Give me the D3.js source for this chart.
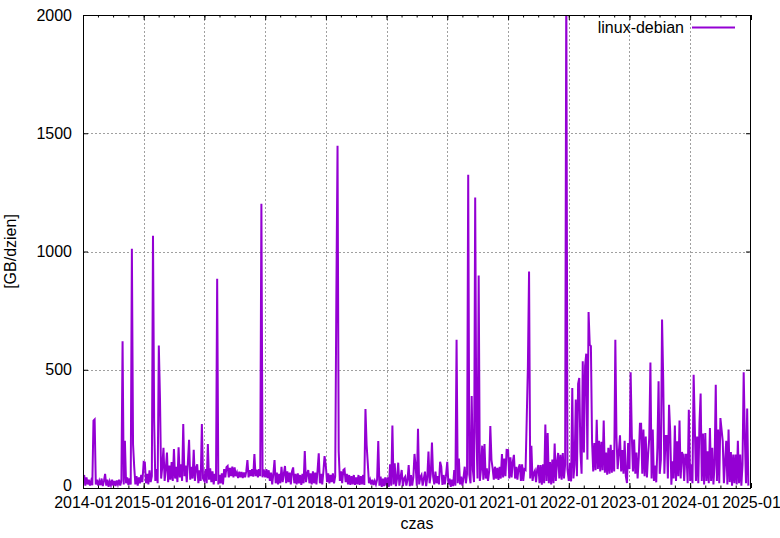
<!DOCTYPE html>
<html>
<head>
<meta charset="utf-8">
<script src="https://cdn.jsdelivr.net/npm/d3@7"></script>
<style>
  html, body { margin: 0; padding: 0; background: #fff; }
  svg { display: block; font-family: "Liberation Sans", Arial, sans-serif; }
</style>
</head>
<body>
<svg id="chart" width="780" height="538"></svg>
<script>
// Weekly samples (value at Jan 1 + 7*i days of each year), GB/day
const v2014 = [20,55,10,45,15,35,10,30,12,285,290,15,35,10,30,12,40,8,30,60,10,35,5,28,12,35,10,30,8,32,15,35,10,30,620,15,200,20,45,12,40,15,1012,185,90,15,50,10,45,20,55,25];
const v2015 = [110,108,20,60,15,75,25,50,1067,283,30,80,20,602,382,40,90,170,30,80,150,25,95,35,110,30,165,40,90,25,172,45,100,30,270,50,95,25,110,204,35,90,40,162,30,85,100,20,75,30,271,40];
const v2016 = [30,80,20,186,35,83,25,70,15,60,30,885,15,55,20,62,15,80,45,88,93,45,85,50,90,45,87,50,65,42,69,45,68,42,66,45,70,118,45,75,50,80,48,144,50,78,45,80,50,1202,45,78];
const v2017 = [45,80,42,75,30,65,15,60,118,20,65,15,60,20,90,25,60,93,20,70,25,65,15,70,87,20,60,15,62,20,55,13,60,20,156,25,60,76,20,62,15,70,20,65,15,76,147,20,60,15,70,135];
const v2018 = [90,25,62,20,55,25,62,20,50,822,1447,156,30,70,20,76,80,25,60,15,55,13,50,15,55,13,45,15,55,13,50,15,55,13,334,182,104,20,35,15,35,13,30,15,35,199,10,48,5,40,8,45];
const v2019 = [10,45,5,100,10,264,15,104,8,40,107,10,45,76,8,40,48,10,35,97,8,55,10,45,144,90,10,250,15,45,55,10,40,69,8,45,154,20,60,192,48,15,69,20,50,15,111,90,13,55,15,50];
const v2020 = [111,15,40,5,35,8,76,10,627,20,125,15,48,10,45,90,20,60,1325,55,20,389,76,25,1228,235,40,898,30,80,179,35,186,40,83,30,70,262,118,83,35,90,40,85,34,90,40,144,45,125,50,161];
const v2021 = [160,40,130,45,110,140,40,90,35,85,100,30,100,30,80,76,292,513,915,40,178,30,62,73,25,80,97,20,97,14,100,20,268,30,232,20,110,15,120,20,188,30,110,148,40,140,35,148,40,100,2150,80];
const v2022 = [30,106,28,423,40,100,374,50,440,465,155,60,536,150,517,568,120,744,606,600,197,70,190,75,289,80,200,70,195,75,285,65,150,56,170,60,183,65,160,70,627,209,80,150,223,70,160,60,200,50,21,190];
const v2023 = [80,489,223,70,205,60,150,40,130,272,272,60,247,50,218,45,140,211,531,40,247,30,95,24,170,451,60,120,712,458,60,220,220,40,352,240,14,113,40,264,30,198,50,285,40,152,141,30,141,141,20,331];
const v2024 = [30,100,20,479,261,30,218,20,275,399,30,230,15,232,30,155,20,254,30,170,15,100,437,30,247,20,296,247,198,20,110,200,15,247,25,152,10,141,20,141,15,200,20,141,10,100,489,212,20,336,10];

const years = [2014,2015,2016,2017,2018,2019,2020,2021,2022,2023,2024];
const yearValues = [v2014,v2015,v2016,v2017,v2018,v2019,v2020,v2021,v2022,v2023,v2024];
const yTicks = [0,500,1000,1500,2000];
const seriesName = "linux-debian";
const yLabel = "[GB/dzien]";
const xLabel = "czas";

const data = [];
years.forEach((yr, k) => {
  yearValues[k].forEach((v, i) => {
    data.push({date: new Date(Date.UTC(yr, 0, 1 + 7 * i)), value: v});
  });
});

const L = 83, R = 751, T = 15, B = 488;
const svg = d3.select("#chart");

const x = d3.scaleUtc()
  .domain([new Date(Date.UTC(2014,0,1)), new Date(Date.UTC(2025,0,1))])
  .range([L, R]);
const y = d3.scaleLinear().domain([0, 2000]).range([B, T]);

const yearTicks = x.ticks(d3.utcYear.every(1));
const quarterTicks = d3.utcMonth.every(3).range(new Date(Date.UTC(2014,0,1)), new Date(Date.UTC(2025,0,2)));

// grid
const grid = svg.append("g").attr("stroke", "#a0a0a0").attr("stroke-width", 1).attr("stroke-dasharray", "2,2");
yearTicks.forEach(t => {
  const px = Math.round(x(t)) + 0.5;
  if (px > L + 1 && px < R - 1)
    grid.append("line").attr("x1", px).attr("x2", px).attr("y1", T).attr("y2", B);
});
yTicks.forEach(t => {
  const py = Math.round(y(t)) + 0.5;
  if (py > T + 1 && py < B - 1)
    grid.append("line").attr("x1", L).attr("x2", R).attr("y1", py).attr("y2", py);
});

// clip
svg.append("defs").append("clipPath").attr("id", "clip")
  .append("rect").attr("x", L).attr("y", T).attr("width", R - L).attr("height", B - T);

const line = d3.line().x(d => x(d.date)).y(d => y(d.value));
svg.append("path")
  .datum(data)
  .attr("clip-path", "url(#clip)")
  .attr("fill", "none")
  .attr("stroke", "#9400d3")
  .attr("stroke-width", 2)
  .attr("d", line);

// axes
const fontSize = 16;
function styleAxis(g) {
  g.select(".domain").remove();
  g.selectAll("line").attr("stroke", "#000");
  g.selectAll("text").attr("font-size", fontSize).attr("fill", "#000")
    .attr("font-family", "'Liberation Sans', Arial, sans-serif");
}

svg.append("g").attr("transform", `translate(0,${B})`)
  .call(d3.axisBottom(x).tickValues(yearTicks).tickFormat(d3.utcFormat("%Y-%m")).tickSizeInner(-5).tickSizeOuter(0).tickPadding(9))
  .call(styleAxis);
svg.append("g").attr("transform", `translate(0,${B})`)
  .call(d3.axisBottom(x).tickValues(quarterTicks).tickFormat("").tickSizeInner(-2.5).tickSizeOuter(0))
  .call(styleAxis);
svg.append("g").attr("transform", `translate(0,${T})`)
  .call(d3.axisTop(x).tickValues(yearTicks).tickFormat("").tickSizeInner(-5).tickSizeOuter(0))
  .call(styleAxis);
svg.append("g").attr("transform", `translate(0,${T})`)
  .call(d3.axisTop(x).tickValues(quarterTicks).tickFormat("").tickSizeInner(-2.5).tickSizeOuter(0))
  .call(styleAxis);
const yAxisG = svg.append("g").attr("transform", `translate(${L},0)`)
  .call(d3.axisLeft(y).tickValues(yTicks).tickFormat(d3.format("d")).tickSizeInner(-5).tickSizeOuter(0).tickPadding(11))
  .call(styleAxis);
// nudge the "0" label slightly up so it does not collide with the first date label
yAxisG.selectAll(".tick text").filter(d => d === 0).attr("transform", "translate(0,-2.5)");
svg.append("g").attr("transform", `translate(${R},0)`)
  .call(d3.axisRight(y).tickValues(yTicks).tickFormat("").tickSizeInner(-5).tickSizeOuter(0))
  .call(styleAxis);

// border
svg.append("rect").attr("x", L + 0.5).attr("y", T + 0.5).attr("width", R - L - 1).attr("height", B - T)
  .attr("fill", "none").attr("stroke", "#000").attr("stroke-width", 1);

// labels
svg.append("text").attr("x", (L + R) / 2).attr("y", 529).attr("text-anchor", "middle")
  .attr("font-size", fontSize).text(xLabel);
svg.append("text").attr("transform", `translate(16,${(T + B) / 2}) rotate(-90)`).attr("text-anchor", "middle")
  .attr("font-size", fontSize).text(yLabel);

// legend
svg.append("text").attr("x", 684).attr("y", 33).attr("text-anchor", "end")
  .attr("font-size", fontSize).text(seriesName);
svg.append("line").attr("x1", 692).attr("x2", 735).attr("y1", 27.5).attr("y2", 27.5)
  .attr("stroke", "#9400d3").attr("stroke-width", 2);
</script>
</body>
</html>
